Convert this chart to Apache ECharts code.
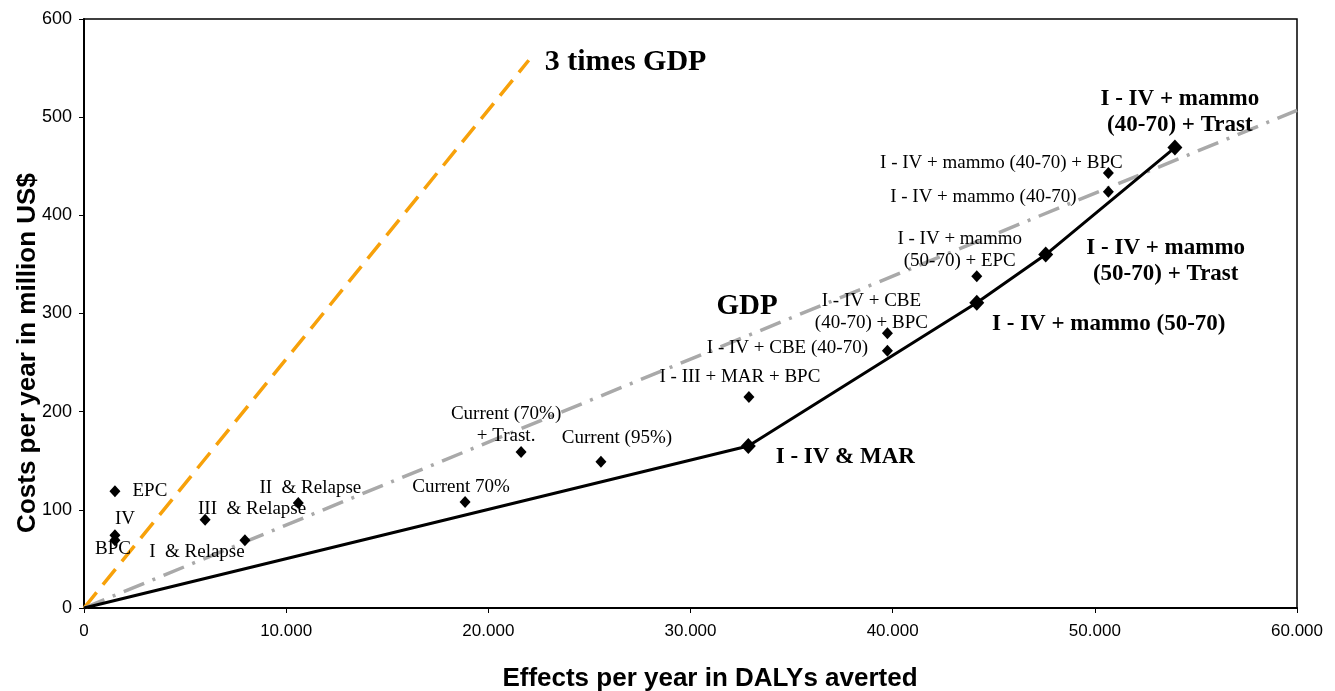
<!DOCTYPE html>
<html>
<head>
<meta charset="utf-8">
<script src="https://cdn.jsdelivr.net/npm/echarts@6/dist/echarts.min.js"></script>
<style>
html,body{margin:0;padding:0;background:#fff;}
#chart{width:1335px;height:691px;}
</style>
</head>
<body>
<div id="chart"></div>
<script>
// ---- Data ----
const pointNames = ['EPC', 'IV', 'BPC', 'III  & Relapse', 'I  & Relapse', 'II  & Relapse',
  'Current 70%', 'Current (70%)\n+ Trast.', 'Current (95%)', 'I - III + MAR + BPC',
  'I - IV + CBE (40-70)', 'I - IV + CBE\n(40-70) + BPC', 'I - IV + mammo\n(50-70) + EPC',
  'I - IV + mammo (40-70)', 'I - IV + mammo (40-70) + BPC'];
const pointEffects = [1530, 1530, 1530, 5990, 7960, 10600, 18850, 21620, 25570, 32890, 39740, 39740, 44160, 50670, 50670];
const pointCosts = [119, 74, 69, 90, 69, 107, 108, 159, 149, 215, 262, 280, 338, 424, 443];

const frontierNames = ['', 'I - IV & MAR', 'I - IV + mammo (50-70)', 'I - IV + mammo\n(50-70) + Trast', 'I - IV + mammo\n(40-70) + Trast'];
const frontierEffects = [0, 32860, 44160, 47570, 53960];
const frontierCosts = [0, 165, 311, 360, 469];

const gdpEffects = [0, 60000];
const gdpCosts = [0, 507];
const threeGdpEffects = [0, 22000];
const threeGdpCosts = [0, 558];
const gdpLabelAt = [32800, 307];

const xTicks = [0, 10000, 20000, 30000, 40000, 50000, 60000];
const yTicks = [0, 100, 200, 300, 400, 500, 600];

// ---- Label layout (pixel offsets from the marker centre) ----
const labelOffsets = {
  'EPC': [35, 0], 'IV': [10, -16], 'BPC': [-2, 9],
  'III  & Relapse': [47, -11], 'I  & Relapse': [-48, 12], 'II  & Relapse': [12, -15],
  'Current 70%': [-4, -15], 'Current (70%)\n+ Trast.': [-15, -27], 'Current (95%)': [16, -24],
  'I - III + MAR + BPC': [-9, -20], 'I - IV + CBE (40-70)': [-100, -3],
  'I - IV + CBE\n(40-70) + BPC': [-16, -21], 'I - IV + mammo\n(50-70) + EPC': [-17, -26],
  'I - IV + mammo (40-70)': [-125, 5], 'I - IV + mammo (40-70) + BPC': [-107, -10],
  'I - IV & MAR': [97, 11], 'I - IV + mammo (50-70)': [132, 21],
  'I - IV + mammo\n(50-70) + Trast': [120, 6], 'I - IV + mammo\n(40-70) + Trast': [5, -36]
};

const serif = '"Liberation Serif", "Times New Roman", serif';
const sans = '"Liberation Sans", Arial, sans-serif';

function thousands(v) { return String(v).replace(/\B(?=(\d{3})+(?!\d))/g, '.'); }
function zip(xs, ys) { return xs.map((x, i) => [x, ys[i]]); }

const scatterData = pointNames.map((n, i) => ({
  value: [pointEffects[i], pointCosts[i]],
  label: { show: true, formatter: n, offset: labelOffsets[n] }
}));
const frontierData = [];
for (let i = 1; i < frontierNames.length; i++) {
  const n = frontierNames[i];
  frontierData.push({
    value: [frontierEffects[i], frontierCosts[i]],
    label: { show: true, formatter: n, offset: labelOffsets[n] }
  });
}

const chart = echarts.init(document.getElementById('chart'), null, { renderer: 'canvas' });
const option = {
  animation: false,
  backgroundColor: '#fff',
  grid: { left: 84, right: 38, top: 19, bottom: 83, show: true, borderColor: '#000', borderWidth: 1.5 },
  xAxis: {
    type: 'value', min: xTicks[0], max: xTicks[xTicks.length - 1], interval: 10000,
    axisLine: { show: true, onZero: false, lineStyle: { color: '#000', width: 2 } },
    axisTick: { show: true, length: 5, lineStyle: { color: '#000', width: 1 } },
    splitLine: { show: false },
    axisLabel: { fontFamily: sans, fontSize: 17, color: '#000', margin: 15, formatter: thousands }
  },
  yAxis: {
    type: 'value', min: yTicks[0], max: yTicks[yTicks.length - 1], interval: 100,
    axisLine: { show: true, onZero: false, lineStyle: { color: '#000', width: 2 } },
    axisTick: { show: true, length: 5, lineStyle: { color: '#000', width: 1 } },
    splitLine: { show: false },
    axisLabel: { fontFamily: sans, fontSize: 18, color: '#000', margin: 12 }
  },
  series: [
    {
      type: 'line', data: zip(threeGdpEffects, threeGdpCosts), showSymbol: false, z: 2,
      lineStyle: { color: '#F7A10A', width: 3.5, type: [20, 10] },
      endLabel: { show: true, formatter: '3 times GDP', distance: 16, offset: [0, 2],
        fontFamily: serif, fontWeight: 'bold', fontSize: 30, color: '#000' }
    },
    {
      type: 'line', data: zip(gdpEffects, gdpCosts), showSymbol: false, z: 2,
      lineStyle: { color: '#A9A9A9', width: 3.5, type: [22, 9, 3, 9] }
    },
    {
      type: 'line', data: zip(frontierEffects, frontierCosts), showSymbol: false, z: 3,
      lineStyle: { color: '#000', width: 3 }
    },
    {
      type: 'scatter', data: [gdpLabelAt], symbolSize: 0, z: 5, silent: true,
      itemStyle: { opacity: 1 },
      label: { show: true, position: 'inside', formatter: 'GDP', fontFamily: serif,
        fontWeight: 'bold', fontSize: 29, color: '#000' }
    },
    {
      type: 'scatter', data: scatterData, symbol: 'diamond', symbolSize: [11, 12], z: 4,
      itemStyle: { color: '#000', opacity: 1 },
      label: { position: 'inside', fontFamily: serif, fontSize: 19, color: '#000', lineHeight: 22 }
    },
    {
      type: 'scatter', data: frontierData, symbol: 'diamond', symbolSize: [15, 16], z: 4,
      itemStyle: { color: '#000', opacity: 1 },
      label: { position: 'inside', fontFamily: serif, fontSize: 23, fontWeight: 'bold', color: '#000', lineHeight: 26 }
    }
  ],
  graphic: [
    { type: 'text', x: 28, y: 353, rotation: Math.PI / 2,
      style: { text: 'Costs per year in million US$', font: 'bold 26px ' + sans, fill: '#000',
        textAlign: 'center', textVerticalAlign: 'middle' } },
    { type: 'text', x: 710, y: 679,
      style: { text: 'Effects per year in DALYs averted', font: 'bold 26px ' + sans, fill: '#000',
        textAlign: 'center', textVerticalAlign: 'middle' } }
  ]
};
chart.setOption(option);
</script>
</body>
</html>
